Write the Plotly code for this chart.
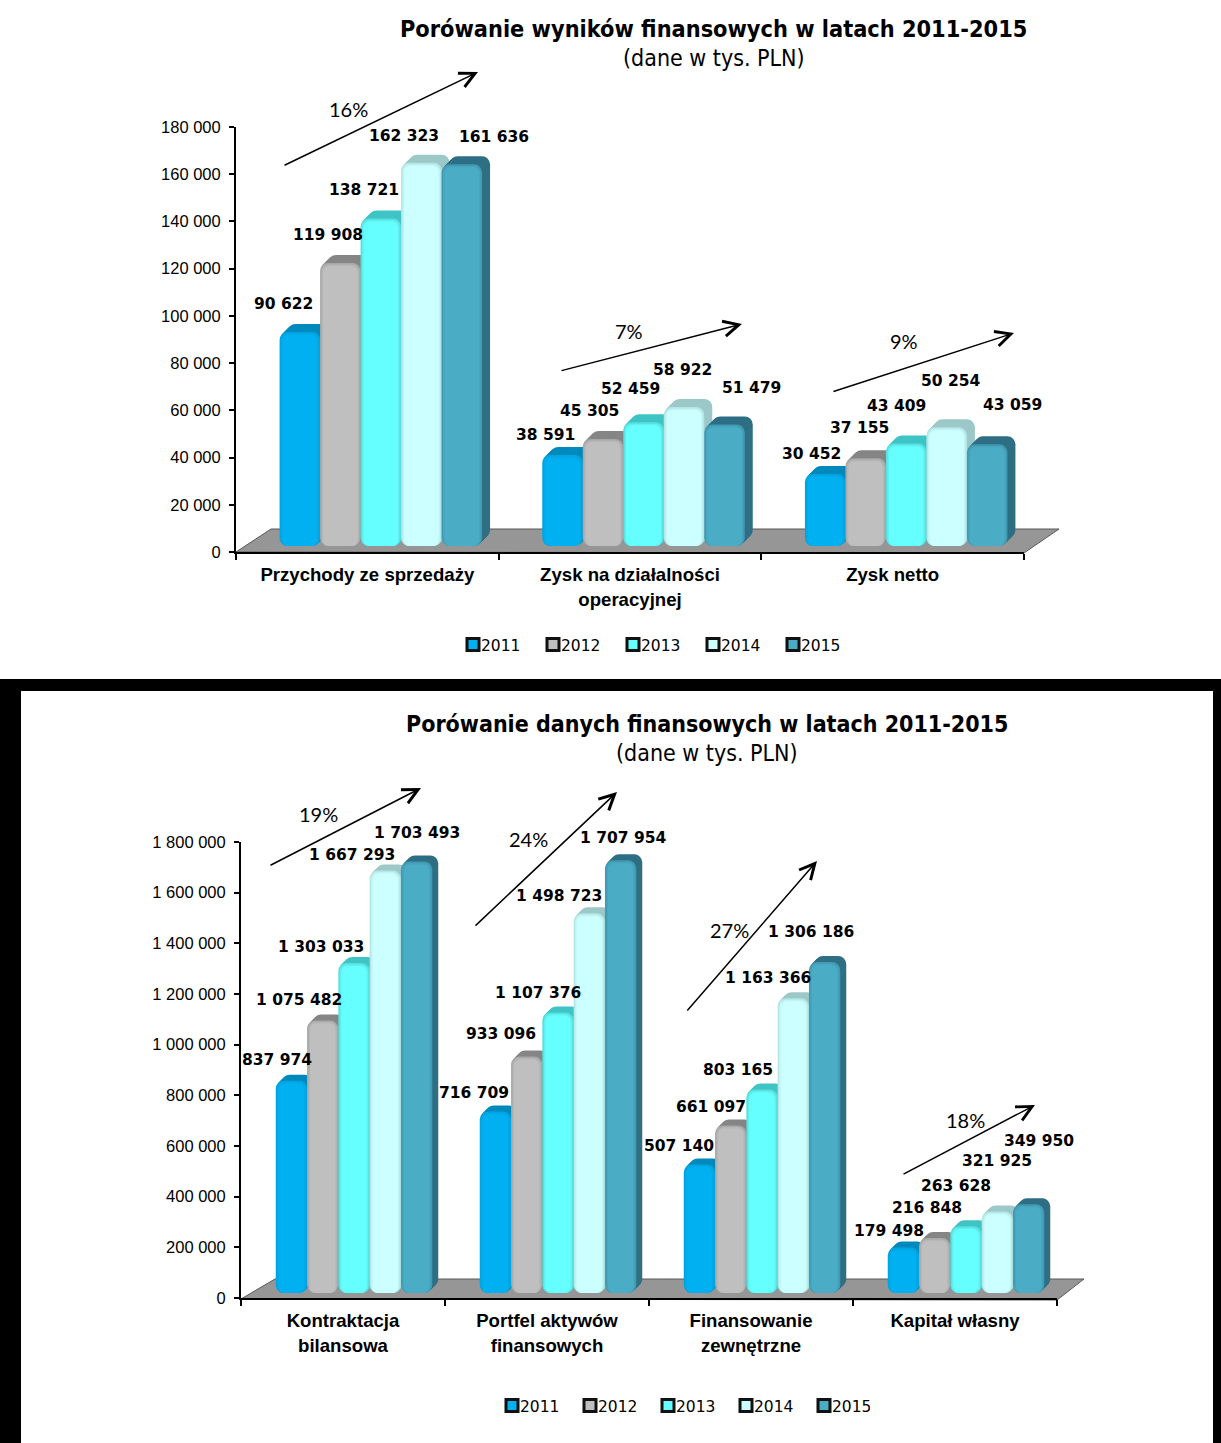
import plotly.graph_objects as go

W, H = 1221, 1443

YEARS = ["2011", "2012", "2013", "2014", "2015"]
COLORS = ["#00B0F0", "#BFBFBF", "#66FFFF", "#CCFFFF", "#4BACC6"]
EDGES = ["#00A4E0", "#A8A8A8", "#58DEDE", "#B4E6E6", "#4199B2"]
MIDS = ["#00AAE8", "#B6B6B6", "#60F0F0", "#C2F4F4", "#47A4BE"]
DEPTHS = ["#0089BC", "#858585", "#3FC4C4", "#9CC8C8", "#2F6F84"]

# ---------- chart 1 data ----------
CATS_A = ["Przychody ze sprzedaży", "Zysk na działalności<br>operacyjnej", "Zysk netto"]
A_2011 = [90622, 38591, 30452]
A_2012 = [119908, 45305, 37155]
A_2013 = [138721, 52459, 43409]
A_2014 = [162323, 58922, 50254]
A_2015 = [161636, 51479, 43059]
A_TICKS = [0, 20000, 40000, 60000, 80000, 100000, 120000, 140000, 160000, 180000]
# label offsets from each bar's top centre, by year then category (pixels)
A_DX = [[-16, -17, -14], [-12, -14, -6], [-17, -13, -10], [-17, -2, 4], [32, 27, 25]]
A_DY = [[-28, -20, -20], [-28, -28, -30], [-28, -33, -38], [-27, -37, -46], [-27, -36, -39]]

# ---------- chart 2 data ----------
CATS_B = ["Kontraktacja<br>bilansowa", "Portfel aktywów<br>finansowych", "Finansowanie<br>zewnętrzne", "Kapitał własny"]
B_2011 = [837974, 716709, 507140, 179498]
B_2012 = [1075482, 933096, 661097, 216848]
B_2013 = [1303033, 1107376, 803165, 263628]
B_2014 = [1667293, 1498723, 1163366, 321925]
B_2015 = [1703493, 1707954, 1306186, 349950]
B_TICKS = [0, 200000, 400000, 600000, 800000, 1000000, 1200000, 1400000, 1600000, 1800000]
B_DX = [[-14, -21, -20, -14], [-24, -26, -20, -8], [-33, -20, -24, -10], [-33, -30, -25, 0], [0, 3, -14, 10]]
B_DY = [[-21, -18, -19, -17], [-21, -23, -19, -30], [-16, -19, -20, -40], [-16, -17, -20, -50], [-28, -22, -30, -63]]

# ---------- growth arrows: tail x, tail y, head x, head y, text, text x, text y ----------
A_ARROWS = [(283, 166, 478, 72, "16%", 348, 109),
            (560, 371, 742, 324, "7%", 629, 331),
            (832, 392, 1014, 333, "9%", 904, 341)]
B_ARROWS = [(269, 866, 421, 788, "19%", 318, 814),
            (474, 927, 617, 792, "24%", 528, 839),
            (686, 1012, 817, 861, "27%", 729, 930),
            (902, 1175, 1035, 1105, "18%", 965, 1120)]

FONT_TICK = "Liberation Sans"
FONT_VAL = "DejaVu Sans"
FONT_TITLE = "DejaVu Sans Condensed"


def spaced(v):
    return f"{v:,}".replace(",", " ")


def px(x):
    return x / W


def py(y):
    return 1 - y / H


fig = go.Figure()
annotations, shapes = [], []


def chart(idx, cats, series, ticks, dxs, dys, arrows, box, floor, title, title_xy, title_size, sub_y,
          legend_name, legend_x, legend_y, legend_pitch, group_shift, bar_w, base_px, depth):
    x0, x1, y_top, y_zero = box
    n = len(cats)
    ymax = ticks[-1]
    u_y = ymax / (y_zero - y_top)          # value per pixel
    u_x = n / (x1 - x0)                    # category per pixel
    w = bar_w * u_x
    xname, yname = ("x", "y") if idx == 1 else (f"x{idx}", f"y{idx}")
    shift = group_shift * u_x
    for j, (vals, year) in enumerate(zip(series, YEARS)):
        xs = [i + shift + (j - 2) * w for i in range(n)]
        # extruded top/side built from stepped copies of the bar
        for k in range(depth, 0, -1):
            fig.add_bar(x=xs, y=vals, base=(base_px + k) * u_y, width=w,
                        offset=-w / 2 + k * u_x, marker=dict(color=DEPTHS[j], cornerradius=8, line_width=0),
                        xaxis=xname, yaxis=yname, showlegend=False, hoverinfo="skip")
        # front face: soft bevel from edge colour to main colour
        for inset, colour, rad in [(0, EDGES[j], 8), (1.5, MIDS[j], 7), (3, COLORS[j], 6)]:
            top = [v - inset * u_y for v in vals]
            fig.add_bar(x=xs, y=top, base=base_px * u_y, width=w - 2 * inset * u_x, name=year,
                        marker=dict(color=colour, cornerradius=rad, line_width=0),
                        xaxis=xname, yaxis=yname, showlegend=False, hoverinfo="skip")
        # legend key
        fig.add_bar(x=[None], y=[None], name=year, legend=legend_name, xaxis=xname, yaxis=yname,
                    marker=dict(color=COLORS[j], line=dict(color="#111111", width=3)))
        for i, v in enumerate(vals):
            annotations.append(dict(x=xs[i], y=v, xref=xname, yref=yname, text=spaced(v), showarrow=False,
                                    xshift=dxs[j][i], yshift=-dys[j][i] + base_px,
                                    xanchor="center", yanchor="middle",
                                    font=dict(family=FONT_VAL, size=15.5, color="black", weight="bold")))
    axis_x = dict(domain=[px(x0), px(x1)], range=[-0.5, n - 0.5], tickmode="array",
                  tickvals=list(range(n)), ticktext=cats, ticks="", showgrid=False, zeroline=False,
                  showline=True, linecolor="black", linewidth=2, anchor=yname, ticklabelstandoff=5,
                  tickfont=dict(family=FONT_TICK, size=18.6, color="black", weight="bold"),
                  minor=dict(tickmode="array", tickvals=[i - 0.5 for i in range(n + 1)], ticks="outside",
                             ticklen=6, tickwidth=1.5, tickcolor="black", showgrid=False))
    axis_y = dict(domain=[py(y_zero), py(y_top)], range=[0, ymax], tickmode="array", tickvals=ticks,
                  ticktext=[spaced(t) for t in ticks], ticks="outside", ticklen=5, tickwidth=1.5,
                  tickcolor="black", showgrid=False, zeroline=False, showline=True, linecolor="black",
                  linewidth=2, anchor=xname, ticklabelstandoff=5,
                  tickfont=dict(family=FONT_TICK, size=16.5, color="black"))
    fig.update_layout({("xaxis" if idx == 1 else f"xaxis{idx}"): axis_x,
                       ("yaxis" if idx == 1 else f"yaxis{idx}"): axis_y})
    # grey floor of the 3-D plot
    path = "M" + " L".join(f"{px(a)},{py(b)}" for a, b in floor) + " Z"
    shapes.append(dict(type="path", path=path, xref="paper", yref="paper", fillcolor="#969696",
                       line=dict(color="#595959", width=1), layer="below"))
    for tx, ty, hx, hy, label, lx, ly in arrows:
        annotations.append(dict(x=px(hx), y=py(hy), xref="paper", yref="paper", ax=tx - hx, ay=ty - hy,
                                axref="pixel", ayref="pixel", text="", showarrow=True, arrowhead=5,
                                arrowsize=2, arrowwidth=1.5, arrowcolor="black"))
        annotations.append(dict(x=px(lx), y=py(ly), xref="paper", yref="paper", text=label, showarrow=False,
                                xanchor="center", yanchor="middle",
                                font=dict(family="Lato", size=20, color="black")))
    tx, ty = title_xy
    annotations.append(dict(x=px(tx), y=py(ty), xref="paper", yref="paper", text=title, showarrow=False,
                            xanchor="center", yanchor="middle",
                            font=dict(family=FONT_TITLE, size=title_size, color="black", weight="bold")))
    annotations.append(dict(x=px(tx), y=py(sub_y), xref="paper", yref="paper", text="(dane w tys. PLN)",
                            showarrow=False, xanchor="center", yanchor="middle",
                            font=dict(family=FONT_TITLE, size=23, color="black")))
    fig.update_layout({legend_name: dict(orientation="h", x=px(legend_x), y=py(legend_y), xanchor="left",
                                         yanchor="middle", entrywidth=legend_pitch - 45, entrywidthmode="pixels",
                                         bgcolor="rgba(0,0,0,0)", font=dict(family="DejaVu Sans", size=15.5, color="black"))})


# black frame around the lower chart
for a, b, c, d in [(0, 679, W, 691), (0, 679, 21, H), (1213, 679, W, H)]:
    shapes.append(dict(type="rect", x0=px(a), x1=px(c), y0=py(b), y1=py(d), xref="paper", yref="paper",
                       fillcolor="black", line_width=0, layer="below"))

chart(1, CATS_A, [A_2011, A_2012, A_2013, A_2014, A_2015], A_TICKS, A_DX, A_DY, A_ARROWS,
      (236, 1024, 127, 552), [(236, 552), (271, 529), (1059, 529), (1024, 553)],
      "Porówanie wyników finansowych w latach 2011-2015", (714, 29), 23.3, 58,
      "legend", 441, 645, 80, 13.5, 40.5, 6, 8)
chart(2, CATS_B, [B_2011, B_2012, B_2013, B_2014, B_2015], B_TICKS, B_DX, B_DY, B_ARROWS,
      (241, 1057, 842, 1298), [(241, 1299), (275, 1279), (1084, 1279), (1057, 1300)],
      "Porówanie danych finansowych w latach 2011-2015", (707, 724), 23, 753,
      "legend2", 480, 1406, 78, 11, 31.3, 5, 6)

fig.update_layout(width=W, height=H, autosize=False,
                  margin=dict(l=0, r=0, t=0, b=0, pad=0, autoexpand=False),
                  paper_bgcolor="white", plot_bgcolor="rgba(0,0,0,0)", barmode="overlay",
                  annotations=annotations, shapes=shapes)

POST = """
document.body.style.margin = '0';
document.querySelectorAll('.legendsymbols').forEach(function (g) { g.setAttribute('transform', 'translate(12,0)'); });
"""
fig.write_html("out.html", post_script=POST, config={"displayModeBar": False})
